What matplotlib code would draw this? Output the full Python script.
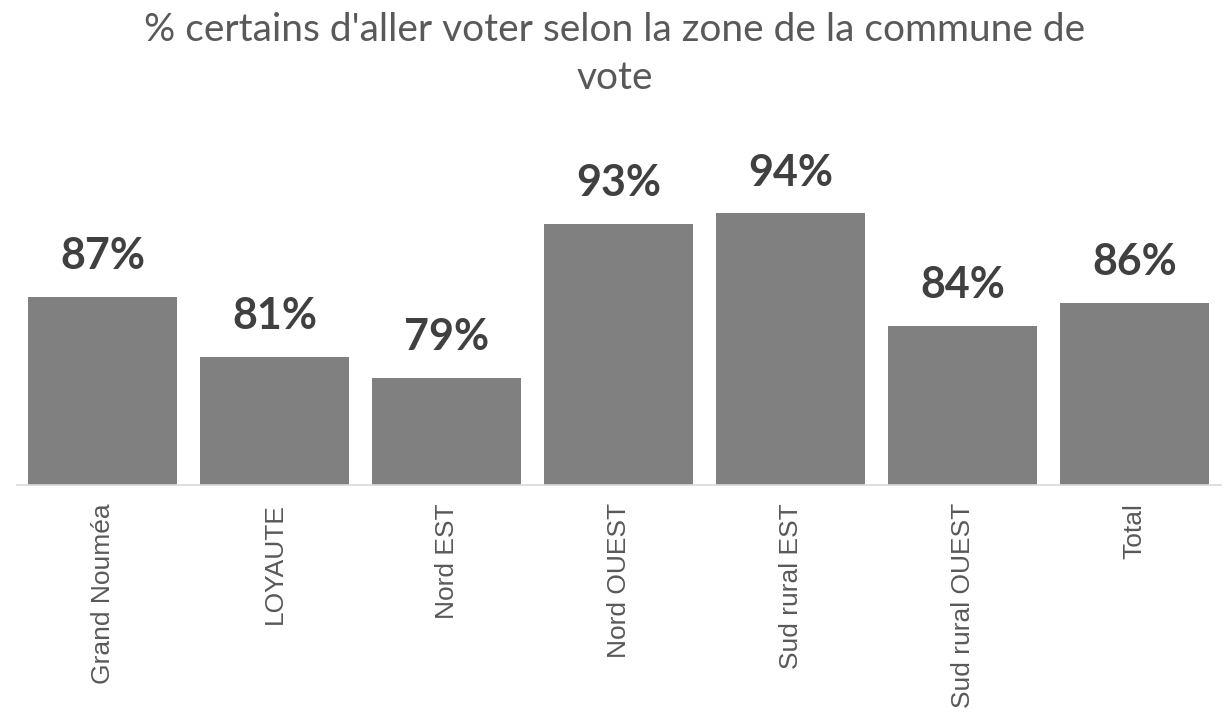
import matplotlib.pyplot as plt
import numpy as np

zones = ["Grand Nouméa", "LOYAUTE", "Nord EST", "Nord OUEST",
         "Sud rural EST", "Sud rural OUEST", "Total"]
pct_certains = [86.53, 81.1, 79.2, 93.14, 94.1, 83.9, 86.0]

fig = plt.figure(figsize=(12.3, 7.17), dpi=100)
ax = fig.add_axes([16.5 / 1230, 232 / 717, 1204 / 1230, 338 / 717])

x = np.arange(len(zones))
bars = ax.bar(x, pct_certains, width=0.87, color="#808080")

ax.set_xlim(-0.5, len(zones) - 0.5)
ax.set_ylim(69.52, 69.52 + 338 / 11.05)

for b, v in zip(bars, pct_certains):
    ax.annotate(f"{v:.0f}%", (b.get_x() + b.get_width() / 2, v),
                xytext=(0, 20), textcoords="offset points",
                ha="center", va="baseline", fontsize=31, fontweight="bold",
                color="#404040", family="Lato")

ax.set_xticks(x)
ax.set_xticklabels(zones, rotation=90, fontsize=19, color="#595959",
                   family="Liberation Sans")
ax.tick_params(axis="x", length=0, pad=13)
ax.set_yticks([])
for s in ["top", "right", "left"]:
    ax.spines[s].set_visible(False)
ax.spines["bottom"].set_color("#d9d9d9")
ax.spines["bottom"].set_linewidth(1.2)

fig.text(0.5, 1 - 30 / 717, "% certains d'aller voter selon la zone de la commune de",
         ha="center", va="center", fontsize=28, color="#595959", family="Lato")
fig.text(0.5, 1 - 78 / 717, "vote",
         ha="center", va="center", fontsize=28, color="#595959", family="Lato")

fig.savefig("out.png", dpi=100)
